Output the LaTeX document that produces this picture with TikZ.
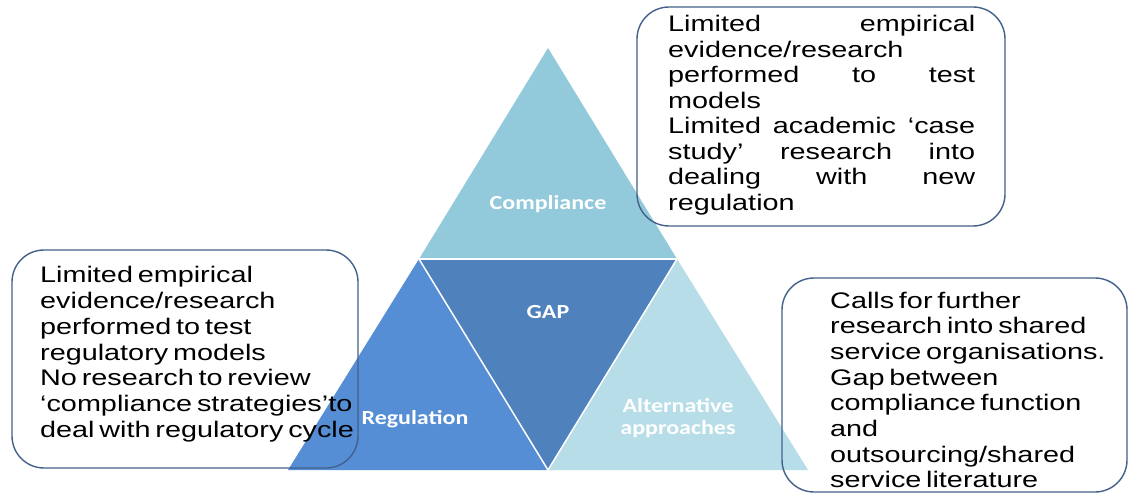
\documentclass[tikz,border=0pt]{standalone}
\usepackage{fontspec}
\setmainfont{Liberation Sans}
\newfontfamily\boxfont[FakeStretch=1.28,WordSpace=0.6]{Liberation Sans}
\newfontfamily\labfont[FakeStretch=1.2]{Carlito}
\definecolor{compl}{HTML}{93CADB}
\definecolor{regc}{HTML}{558ED5}
\definecolor{gapc}{HTML}{4F81BD}
\definecolor{altc}{HTML}{B7DEE8}
\definecolor{bordc}{HTML}{43618A}
\tikzset{
  tri/.style={draw=white, line width=1.5pt, line join=miter},
  tbox/.style={draw=bordc, line width=1.4pt, rounded corners=32pt, inner sep=0pt},
  btext/.style={inner sep=0pt, anchor=base west, text=black},
  lab/.style={text=white, font=\labfont\bfseries\fontsize{20}{22}\selectfont, align=center, inner sep=0pt}
}
\newcommand{\jline}[1]{\makebox[\linewidth][s]{#1}}
\begin{document}
\begin{tikzpicture}[x=1pt,y=1pt]
\useasboundingbox (0,0) rectangle (1129,493);
\fill[white] (0,0) rectangle (1129,493);
% triangle corners
\coordinate (apex) at (548,445);
\coordinate (ml) at (419,234);
\coordinate (mr) at (677,234);
\coordinate (bl) at (288,23);
\coordinate (bc) at (548,23);
\coordinate (br) at (808,23);
\fill[regc] (ml) -- (bl) -- (bc) -- cycle;
\fill[altc] (mr) -- (bc) -- (br) -- cycle;
\fill[gapc] (ml) -- (mr) -- (bc) -- cycle;
\fill[compl] (apex) -- (ml) -- (mr) -- cycle;
\draw[tri] (ml) -- (mr);
\draw[tri] (ml) -- (bc) -- (mr);
% labels
\node[lab] (lcompl) at (548,289) {Compliance};
\node[lab] (lgap) at (548,181) {GAP};
\node[lab] (lreg) at (415,74) {Regulation};
\node[lab] (lalt) at (678,75) {Alternative\\approaches};
% boxes
\node[tbox, minimum width=368pt, minimum height=219pt] (trbox) at (821,376.5) {};
\node[tbox, minimum width=346pt, minimum height=218pt] (lbox) at (185,134) {};
\node[tbox, minimum width=345pt, minimum height=214pt] (rbox) at (954.5,108) {};
% texts
\node[btext] (trtext) at (668,461) {\parbox[t]{307pt}{\boxfont\fontsize{22.5}{25.5}\selectfont\raggedright
\jline{Limited empirical}\\
evidence/research\\
\jline{performed to test}\\
models\\
\jline{Limited academic ‘case}\\
\jline{study’ research into}\\
\jline{dealing with new}\\
regulation}};
\node[btext] (ltext) at (40,210) {\parbox[t]{320pt}{\boxfont\fontsize{22.5}{25.7}\selectfont\raggedright
Limited empirical\\
evidence/research\\
performed to test\\
regulatory models\\
No research to review\\
‘compliance strategies’to\\
deal with regulatory cycle}};
\node[btext] (rtext) at (830,185) {\parbox[t]{295pt}{\boxfont\fontsize{22.5}{25.7}\selectfont\raggedright
Calls for further\\
research into shared\\
service organisations.\\
Gap between\\
compliance function\\
and\\
outsourcing/shared\\
service literature}};
\end{tikzpicture}
\end{document}
